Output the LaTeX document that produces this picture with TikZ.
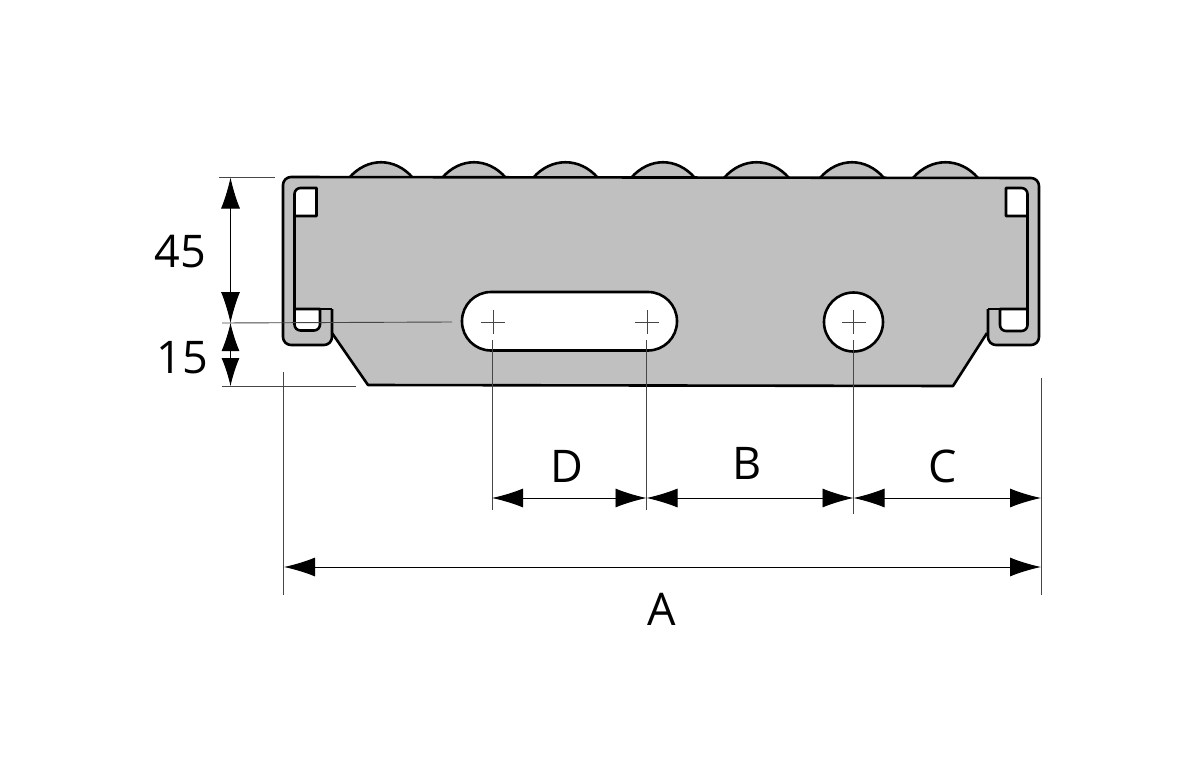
\documentclass[tikz,border=0pt]{standalone}
\usepackage{fontspec}
\setmainfont{Open Sans}
\usetikzlibrary{arrows.meta}
\definecolor{plate-gray}{RGB}{192,192,192}
\definecolor{hair-gray}{RGB}{70,70,70}
\begin{document}
\begin{tikzpicture}[%
            x=1pt,y=-1pt,
            >={Latex[length=31pt,width=19pt]},
            outline/.style={draw=black,line width=2.6pt,line join=round},
            plate/.style={outline,fill=plate-gray},
            hole/.style={outline,fill=white},
            hair/.style={draw=hair-gray,line width=0.9pt},
            dimline/.style={draw=black,line width=0.9pt,<->},
            shortdim/.style={draw=black,line width=0.9pt,>={Latex[length=28pt,width=18pt]},<->},
            dimlabel/.style={anchor=base,inner sep=0pt,font=\fontsize{45}{50}\selectfont},
            cross/.pic={%
              \draw [hair] (-12,0) -- (12,0);
              \draw [hair] (0,-12) -- (0,12);
            }
          ]
            \useasboundingbox (0,0) rectangle (1200,779);
            \def\yHole{322}

            % rollers behind the plate
            \foreach \a/\b in {349/413,442/506,533/598,631/695,724/789,820/884,913/978} {%
              \draw [plate] (\a,178) .. controls ({\a+18},157) and ({\b-18},157) .. (\b,178);
            }

            % plate
            \fill [plate-gray] (332,309) -- (332,333) -- (368,385) -- (953,386) -- (987,333) -- (988,309) -- cycle;
            \draw [outline] (332,333) -- (368,385) -- (953,386) -- (987,333);
            \draw [plate,rounded corners=8] (332,309) -- (332,345) -- (283,345) -- (283,177) -- (1039,178) -- (1039,345) -- (988,345) -- (988,309);

            % channel, left and right
            \draw [hole] (294.5,216) [rounded corners=6] -- (294.5,188) [sharp corners] -- (316.5,188) -- (316.5,216) -- cycle;
            \draw [hole] (294.5,309) [rounded corners=6] -- (294.5,330.5) -- (320,330.5) [sharp corners] -- (320,309) -- cycle;
            \draw [outline] (294.5,216) -- (294.5,309) -- (332,309);
            \draw [hole] (1027.5,216) [rounded corners=6] -- (1027.5,188) [sharp corners] -- (1006,188) -- (1006,216) -- cycle;
            \draw [hole] (1027.5,309) [rounded corners=6] -- (1027.5,331) -- (1000,331) [sharp corners] -- (1000,309) -- cycle;
            \draw [outline] (1027.5,216) -- (1027.5,309) -- (988,309);

            % slot and bore
            \draw [hole,rounded corners=29] (462,292) rectangle (677,350.5);
            \draw [hole] (853.5,322) circle (29.5);
            \foreach \x in {493,647,853.5}
              \pic at (\x,\yHole) {cross};

            % extension lines
            \coordinate (topL) at (219,177);
            \coordinate (topR) at (275,177);
            \coordinate (midL) at (222,323);
            \coordinate (midR) at (452,322);
            \coordinate (lowL) at (222,386);
            \coordinate (lowR) at (356,386);
            \coordinate (slotA) at (492,340);
            \coordinate (slotB) at (646.5,340);
            \coordinate (bore) at (853.5,340);
            \coordinate (slotAend) at (492,510);
            \coordinate (slotBend) at (646.5,510);
            \coordinate (boreend) at (853.5,514);
            \coordinate (leftA) at (283.5,372);
            \coordinate (leftB) at (283.5,595);
            \coordinate (rightA) at (1041,378);
            \coordinate (rightB) at (1041,595);
            \foreach \s/\e in {topL/topR,midL/midR,lowL/lowR,slotA/slotAend,slotB/slotBend,bore/boreend,leftA/leftB,rightA/rightB}
              \draw [hair] (\s) -- (\e);

            % dimension lines
            \coordinate (dimTop) at (230.5,177.5);
            \coordinate (dimMid) at (230.5,323);
            \coordinate (dimLow) at (230.5,386);
            \coordinate (dimD) at (492,498);
            \coordinate (dimB) at (646.5,498);
            \coordinate (dimC) at (853.5,498);
            \coordinate (dimE) at (1041,498);
            \coordinate (dimAl) at (284,567);
            \coordinate (dimAr) at (1041,567);
            \draw [dimline] (dimTop) -- (dimMid);
            \draw [shortdim] (dimMid) -- (dimLow);
            \draw [dimline] (dimD) -- (dimB);
            \draw [dimline] (dimB) -- (dimC);
            \draw [dimline] (dimC) -- (dimE);
            \draw [dimline] (dimAl) -- (dimAr);

            \node [dimlabel] (height) at (180,267) {45};
            \node [dimlabel] (lower) at (182,373) {15};
            \node [dimlabel] (pitch) at (567,482) {D};
            \node [dimlabel] (span) at (747,479) {B};
            \node [dimlabel] (edge) at (943,482) {C};
            \node [dimlabel] (width) at (662,625) {A};
          \end{tikzpicture}
\end{document}
